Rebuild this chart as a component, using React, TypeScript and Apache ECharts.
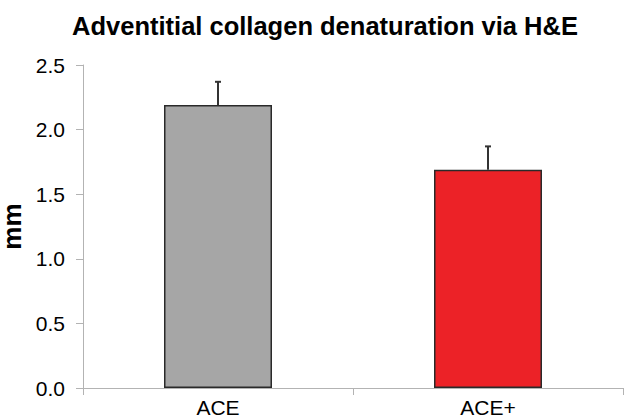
import React, { useEffect, useRef } from "react";
import * as echarts from "echarts";

const categories = ["ACE", "ACE+"];
const means = [2.19, 1.69];
const errorsUp = [0.18, 0.18];
const barColors = ["#a6a6a6", "#ec2227"];
const yTicks = { min: 0, max: 2.5, interval: 0.5 };

const FONT = "'Liberation Sans', Arial, Helvetica, sans-serif";

export default function App() {
  const ref = useRef<HTMLDivElement>(null);
  useEffect(() => {
    if (!ref.current) return;
    const chart = echarts.init(ref.current, null, { renderer: "svg" });
    const errData = means.map((m, i) => [i, m, m + errorsUp[i]]);
    chart.setOption({
      animation: false,
      backgroundColor: "#ffffff",
      title: {
        text: "Adventitial collagen denaturation via H&E",
        left: 320,
        textAlign: "center",
        top: 8,
        textStyle: { fontFamily: FONT, fontWeight: "bold", fontSize: 25.5, color: "#000" },
      },
      grid: { left: 83, right: 1, top: 65, bottom: 32, containLabel: false, outerBoundsMode: "none" },
      xAxis: {
        type: "category",
        data: categories,
        boundaryGap: true,
        axisLine: { lineStyle: { color: "#b3b3b3", width: 1 } },
        axisTick: { show: true, length: 7, lineStyle: { color: "#b3b3b3" } },
        axisLabel: { fontFamily: FONT, fontSize: 21, color: "#000", margin: 9 },
      },
      yAxis: {
        type: "value",
        min: yTicks.min,
        max: yTicks.max,
        interval: yTicks.interval,
        name: "mm",
        nameLocation: "middle",
        nameRotate: 90,
        nameGap: 56,
        nameTextStyle: { fontFamily: FONT, fontWeight: "bold", fontSize: 26, color: "#000", lineHeight: 26 },
        splitLine: { show: false },
        axisLine: { show: true, lineStyle: { color: "#b3b3b3", width: 1 } },
        axisTick: { show: true, length: 7, lineStyle: { color: "#b3b3b3" } },
        axisLabel: {
          fontFamily: FONT,
          fontSize: 21,
          color: "#000",
          margin: 18,
          formatter: (v: number) => v.toFixed(1),
        },
      },
      series: [
        {
          type: "bar",
          data: means.map((v, i) => ({
            value: v,
            itemStyle: { color: barColors[i], borderColor: "#2a2a2a", borderWidth: 1.5 },
          })),
          barWidth: "40%",
        },
        {
          type: "custom",
          data: errData,
          z: 10,
          renderItem: (params: any, api: any) => {
            const x = api.value(0);
            const base = api.coord([x, api.value(1)]);
            const top = api.coord([x, api.value(2)]);
            const capHalf = 3;
            return {
              type: "group",
              children: [
                {
                  type: "line",
                  shape: { x1: base[0], y1: base[1], x2: top[0], y2: top[1] },
                  style: { stroke: "#333", lineWidth: 2 },
                },
                {
                  type: "line",
                  shape: { x1: top[0] - capHalf, y1: top[1], x2: top[0] + capHalf, y2: top[1] },
                  style: { stroke: "#333", lineWidth: 2 },
                },
              ],
            };
          },
        },
      ],
    });
    return () => chart.dispose();
  }, []);
  return <div ref={ref} style={{ width: 624, height: 420, position: "absolute", left: 0, top: 0 }} />;
}
